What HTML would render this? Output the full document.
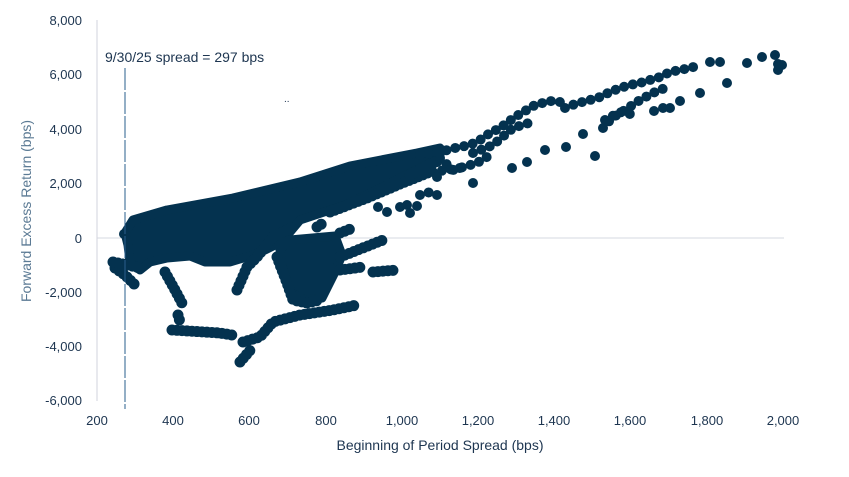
<!DOCTYPE html>
<html><head><meta charset="utf-8"><style>
body{margin:0;background:#fff}
svg text{font-family:"Liberation Sans",sans-serif;font-size:13px;fill:#1d3550}
</style></head><body>
<svg width="849" height="472" viewBox="0 0 849 472" xmlns="http://www.w3.org/2000/svg">
<line x1="97" y1="20" x2="97" y2="401" stroke="#d0d3dc" stroke-width="1"/>
<line x1="97" y1="238" x2="784" y2="238" stroke="#d6d8e0" stroke-width="1"/>
<g text-anchor="end">
<text x="82" y="25">8,000</text><text x="82" y="79">6,000</text><text x="82" y="134">4,000</text><text x="82" y="188">2,000</text><text x="82" y="243">0</text><text x="82" y="297">-2,000</text><text x="82" y="351">-4,000</text><text x="82" y="405">-6,000</text>
</g>
<g text-anchor="middle">
<text x="97" y="425">200</text><text x="173" y="425">400</text><text x="249" y="425">600</text><text x="326" y="425">800</text><text x="402" y="425">1,000</text><text x="478" y="425">1,200</text><text x="554" y="425">1,400</text><text x="630" y="425">1,600</text><text x="707" y="425">1,800</text><text x="783" y="425">2,000</text>
<text x="440" y="450" style="font-size:14px">Beginning of Period Spread (bps)</text>
<text transform="translate(31,211) rotate(-90)" style="font-size:14px;fill:#5b7a94">Forward Excess Return (bps)</text>
</g>
<text x="105" y="62" style="font-size:14px">9/30/25 spread = 297 bps</text>
<text x="284" y="102" style="font-size:10px">..</text>
<g fill="#04324f" stroke="#04324f">
<polygon stroke-width="9" stroke-linejoin="round" points="125,233 133,220 167,210 233,198 300,182 350,166 417,153 440,148 440,158 428,164 400,178 377,190 345,205 300,220 290,232 275,245 265,250 250,256 230,262 205,262 190,256 167,258 150,262 140,270 130,262 128,245"/>
<polygon stroke-width="9" stroke-linejoin="round" points="290,240 335,236 342,255 335,272 322,298 305,300 290,292 282,265 280,250"/>
</g>
<g fill="none" stroke="#04324f" stroke-width="11" stroke-linecap="round" stroke-linejoin="round" stroke-dasharray="0,5">
<polyline points="115,268 125,275 135,285"/>
<polyline points="113,262 128,265 140,268"/>
<polyline points="165,272 175,290 183,305"/>
<polyline points="178,315 180,322"/>
<polyline points="172,330 220,333 232,335"/>
<polyline points="243,342 260,337 273,322 300,315 333,310 357,305"/>
<polyline points="240,362 253,347"/>
<polyline points="237,290 247,267 257,257 273,237 293,227"/>
<polyline points="277,257 287,283 293,300 307,303 320,300"/>
<polyline points="340,233 353,228"/>
<polyline points="340,257 383,240"/>
<polyline points="340,270 363,267"/>
<polyline points="373,272 397,270"/>
<polyline points="317,227 323,223"/>
<polyline points="330,212 367,198 400,184 430,172"/>
<polyline points="410,175 440,160"/>
</g>
<g fill="none" stroke="#04324f" stroke-width="10" stroke-linecap="round" stroke-linejoin="round" stroke-dasharray="0,9">
<polyline points="440,158 453,170 477,163 490,155"/>
<polyline points="473,153 493,145 513,128 535,121"/>
<polyline points="420,155 440,152 455,148 470,145 480,140 490,133 500,128 515,117 535,105 550,101 560,102"/>
<polyline points="565,108 575,104 590,100 600,97 610,92 620,88 630,85 640,83 650,80 660,77 670,72 680,70 690,68 700,65"/>
<polyline points="603,128 612,118 625,110 640,100 655,92 665,88"/>
<polyline points="605,120 620,112 635,115"/>
<polyline points="420,195 437,190"/>
<polyline points="433,172 460,168"/>
</g>
<g fill="#04324f">
<circle cx="437" cy="177" r="5"/><circle cx="437" cy="195" r="5"/><circle cx="473" cy="183" r="5"/><circle cx="512" cy="168" r="5"/><circle cx="527" cy="162" r="5"/>
<circle cx="378" cy="207" r="5"/><circle cx="387" cy="212" r="5"/><circle cx="400" cy="207" r="5"/><circle cx="407" cy="205" r="5"/><circle cx="417" cy="206" r="5"/><circle cx="410" cy="213" r="5"/>
<circle cx="545" cy="150" r="5"/><circle cx="566" cy="147" r="5"/><circle cx="595" cy="156" r="5"/><circle cx="583" cy="134" r="5"/>
<circle cx="654" cy="111" r="5"/><circle cx="663" cy="108" r="5"/><circle cx="670" cy="108" r="5"/><circle cx="680" cy="101" r="5"/><circle cx="700" cy="93" r="5"/><circle cx="727" cy="83" r="5"/>
<circle cx="710" cy="62" r="5"/><circle cx="720" cy="62" r="5"/><circle cx="747" cy="63" r="5"/><circle cx="762" cy="57" r="5"/><circle cx="775" cy="55" r="5"/><circle cx="778" cy="64" r="5"/><circle cx="782" cy="65" r="5"/><circle cx="778" cy="70" r="5"/>
<circle cx="124" cy="234" r="5"/>
</g>
<line x1="125" y1="68" x2="125" y2="409" stroke="#2a5f8e" stroke-width="1" stroke-dasharray="22,2"/>
</svg>
</body></html>
